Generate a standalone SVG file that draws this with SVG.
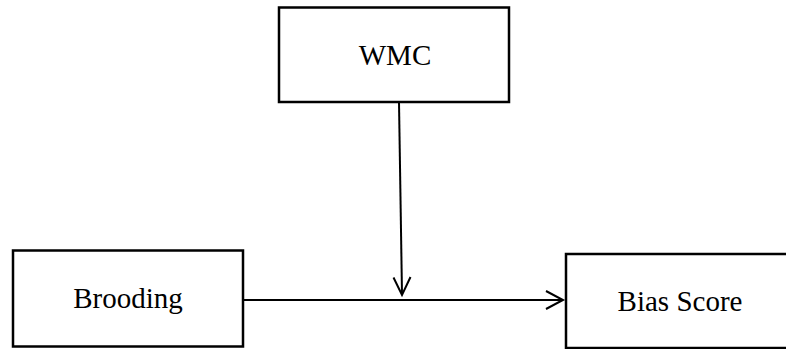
<svg xmlns="http://www.w3.org/2000/svg" width="786" height="349" viewBox="0 0 786 349">
<style>
.box{fill:#fff;stroke:#000;stroke-width:2.5}
.lbl{font-family:"Liberation Serif","Times New Roman",serif;font-size:29px;fill:#000;text-anchor:middle}
.edge{stroke:#000;stroke-width:2;fill:none}
.head{stroke:#000;stroke-width:2;fill:none}
</style>
<rect width="786" height="349" fill="#fff"/>
<g id="node-wmc">
<rect class="box" x="279" y="7.5" width="230" height="94.5"/>
<text class="lbl" x="395" y="65">WMC</text>
</g>
<g id="node-brooding">
<rect class="box" x="13" y="250.5" width="230" height="96"/>
<text class="lbl" x="128" y="308">Brooding</text>
</g>
<g id="node-bias">
<rect class="box" x="566" y="254" width="240" height="94"/>
<text class="lbl" x="680" y="311">Bias Score</text>
</g>
<g id="connectors">
<line class="edge" x1="243" y1="300" x2="563" y2="300"/>
<polyline class="head" points="546,291 563,300 546,309"/>
<line class="edge" x1="399" y1="102" x2="402" y2="294"/>
<polyline class="head" points="393.5,277.5 402,295 410.5,277"/>
</g>
</svg>
